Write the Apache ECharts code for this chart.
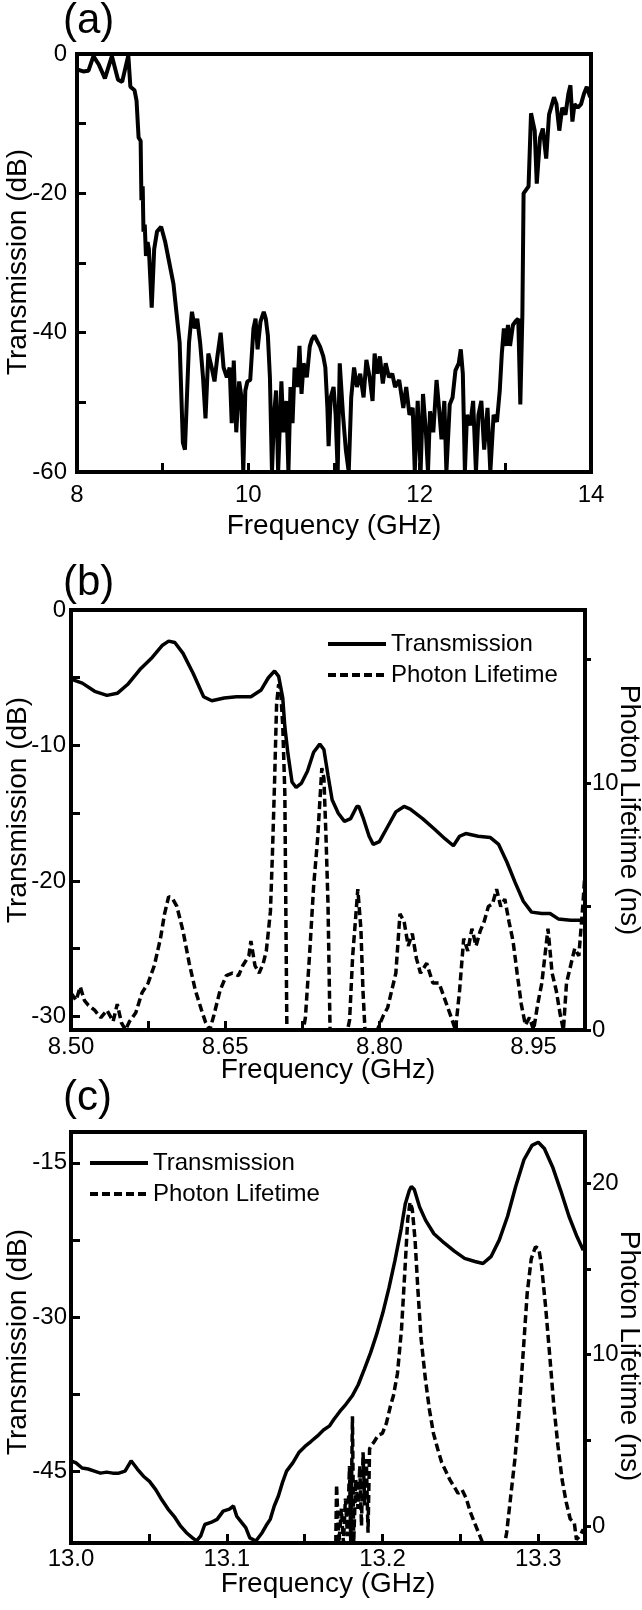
<!DOCTYPE html>
<html><head><meta charset="utf-8">
<script src="https://cdn.jsdelivr.net/npm/echarts@6/dist/echarts.min.js"></script>
<style>html,body{margin:0;padding:0;background:#fff}#c{width:642px;height:1610px}</style>
</head><body><div id="c"></div>
<script>
// ---------- Panel (a) ----------
const aFreq = [8.000,8.072,8.134,8.192,8.254,8.326,8.407,8.479,8.527,8.599,8.623,8.671,8.695,8.719,8.743,8.752,8.767,8.776,8.791,8.805,8.824,8.839,8.872,8.901,8.934,8.982,9.030,9.078,9.126,9.160,9.198,9.236,9.260,9.284,9.308,9.342,9.375,9.404,9.437,9.471,9.500,9.533,9.572,9.605,9.639,9.677,9.711,9.749,9.782,9.806,9.830,9.859,9.893,9.917,9.941,9.965,9.989,10.022,10.060,10.084,10.108,10.142,10.180,10.204,10.228,10.252,10.276,10.300,10.324,10.348,10.386,10.410,10.444,10.468,10.492,10.516,10.540,10.573,10.597,10.621,10.645,10.683,10.717,10.741,10.770,10.803,10.837,10.875,10.899,10.923,10.937,10.961,10.995,11.019,11.043,11.067,11.105,11.138,11.172,11.201,11.234,11.268,11.306,11.345,11.378,11.416,11.450,11.474,11.507,11.536,11.570,11.603,11.642,11.680,11.713,11.761,11.809,11.843,11.881,11.919,11.943,11.977,12.011,12.039,12.073,12.097,12.121,12.159,12.197,12.226,12.255,12.288,12.312,12.351,12.384,12.418,12.456,12.480,12.504,12.528,12.552,12.590,12.624,12.657,12.686,12.720,12.753,12.792,12.825,12.863,12.902,12.935,12.959,12.983,13.007,13.031,13.055,13.089,13.117,13.151,13.175,13.199,13.213,13.232,13.271,13.300,13.343,13.367,13.405,13.438,13.477,13.510,13.534,13.568,13.597,13.630,13.664,13.702,13.736,13.760,13.783,13.807,13.846,13.884,13.918,13.951,13.990,14.000];
const aTrans = [-2.2,-2.5,-2.4,-0.3,-1.5,-3.5,-0.3,-3.7,-4.0,-0.2,-4.7,-5.2,-6.7,-12,-12.5,-21,-19,-25.5,-24.5,-29,-27,-28,-36.4,-28,-25.5,-24.8,-27,-30,-33,-37,-41.4,-55.8,-56.8,-49,-41.4,-37,-39.4,-38,-41.4,-46.4,-52.3,-43,-45,-47,-43.4,-40,-45,-46.4,-45,-53,-44,-54.3,-47,-49,-60,-48.3,-47,-46.8,-39.4,-38,-42.4,-38.4,-37,-38,-40.4,-46.4,-60,-51.8,-48.3,-60,-47,-54.3,-49.8,-60,-47.8,-53,-45,-47.8,-41.9,-48.8,-44.4,-46.4,-42,-41,-40.4,-41.2,-42,-43.4,-45,-50.8,-56.3,-49.3,-47.8,-51.8,-60,-44.4,-51.8,-56.8,-60,-49.3,-45,-47.8,-45.9,-49.3,-43.9,-46.4,-49.8,-43,-45.9,-43.4,-47.3,-44.4,-46.4,-45.9,-47.8,-46.8,-50.8,-47.8,-51.8,-50.8,-60,-49.8,-60,-48.8,-54.3,-60,-51.3,-54.3,-46.8,-50.8,-55.3,-49.8,-60,-50.3,-49.3,-45.4,-44.4,-42.4,-45.9,-60,-51.8,-53.3,-49.8,-60,-51.8,-49.8,-56.8,-50.8,-60,-51.8,-52.8,-48.3,-43,-39.4,-41.9,-38.9,-41.9,-38.9,-38.4,-38,-50.3,-37.4,-20,-20,-19,-8.5,-11,-18.6,-12,-10.7,-15,-8.7,-7.7,-6.2,-7.2,-11,-7.7,-8.7,-5.7,-4.5,-9.7,-7.2,-7.7,-7.2,-5.7,-4.7,-6.2,-5.5];
const aXLabels = [8,10,12,14];
const aXTicks = [8,9,10,11,12,13,14];
const aYLabels = [-60,-40,-20,0];
const aYTicks = [-60,-50,-40,-30,-20,-10,0];

// ---------- Panel (b) ----------
const bFreqT = [8.500,8.511,8.523,8.535,8.545,8.555,8.567,8.579,8.589,8.595,8.601,8.609,8.619,8.629,8.637,8.649,8.661,8.675,8.685,8.692,8.698,8.702,8.706,8.708,8.711,8.715,8.719,8.724,8.730,8.736,8.742,8.746,8.750,8.754,8.760,8.766,8.772,8.778,8.780,8.784,8.790,8.794,8.800,8.808,8.816,8.824,8.830,8.842,8.854,8.864,8.872,8.878,8.884,8.896,8.908,8.916,8.924,8.932,8.940,8.948,8.958,8.966,8.974,8.986,9.000];
const bTrans = [-5.1,-5.4,-6.0,-6.3,-6.15,-5.5,-4.4,-3.5,-2.6,-2.3,-2.4,-3.2,-4.7,-6.4,-6.7,-6.5,-6.4,-6.4,-5.9,-5.0,-4.5,-4.9,-6.5,-8.6,-10.6,-12.7,-13.1,-12.8,-11.9,-10.5,-9.9,-10.3,-12.2,-14.0,-15.0,-15.6,-15.4,-14.5,-14.5,-15.3,-16.7,-17.3,-17.1,-16.0,-14.9,-14.5,-14.7,-15.4,-16.2,-16.9,-17.4,-16.7,-16.5,-16.7,-16.8,-17.3,-18.6,-20.1,-21.5,-22.3,-22.4,-22.4,-22.8,-22.9,-22.9];
const bFreqL = [8.500,8.505,8.509,8.513,8.517,8.523,8.529,8.535,8.541,8.545,8.549,8.553,8.557,8.563,8.569,8.575,8.581,8.587,8.591,8.595,8.599,8.603,8.609,8.615,8.621,8.627,8.631,8.635,8.639,8.645,8.651,8.657,8.663,8.667,8.673,8.675,8.679,8.683,8.687,8.690,8.694,8.696,8.698,8.700,8.702,8.704,8.706,8.708,8.710,8.726,8.728,8.732,8.736,8.740,8.744,8.746,8.748,8.750,8.752,8.769,8.771,8.774,8.777,8.779,8.782,8.784,8.786,8.798,8.804,8.808,8.812,8.816,8.820,8.824,8.828,8.832,8.836,8.840,8.846,8.852,8.858,8.864,8.870,8.874,8.878,8.882,8.886,8.890,8.894,8.898,8.902,8.906,8.910,8.914,8.918,8.922,8.926,8.930,8.934,8.938,8.942,8.946,8.950,8.954,8.958,8.964,8.968,8.972,8.976,8.979,8.982,8.986,8.990,8.994,8.998,9.000];
const bLife = [1.5,1.2,1.75,1.2,1.0,0.8,0.5,0.8,0.35,1.05,0.3,0,0.35,0.7,1.5,1.9,2.6,3.7,4.7,5.4,5.3,5.0,4.0,2.7,1.6,0.8,0.3,0,0.6,1.6,2.2,2.3,2.2,2.6,3.0,3.6,2.6,2.3,2.7,3.2,4.8,7.2,10.0,13.2,14.0,13.7,12.3,9.6,0,0,0.5,3.0,5.8,7.8,10.6,10.2,7.9,5.1,0,0,0.4,3.0,4.6,5.7,4.1,1.6,0,0,0.6,0.9,1.6,2.3,4.7,4.4,3.4,3.9,2.9,2.3,2.7,1.9,1.9,1.2,0.5,0,1.6,3.7,3.2,4.1,3.4,4.0,4.4,5.0,5.1,5.7,5.0,5.3,4.4,3.6,2.3,1.05,0.2,0.5,0,1.05,1.9,4.1,2.3,1.6,0.6,0,1.9,2.6,3.3,3.0,5.1,6.4];
const bXLabels = [8.50,8.65,8.80,8.95];
const bXTicks = [8.50,8.575,8.65,8.725,8.80,8.875,8.95];
const bYLabels = [-30,-20,-10,0];
const bYTicks = [-30,-25,-20,-15,-10,-5,0];
const bRLabels = [0,10];
const bRTicks = [0,5,10,15];

// ---------- Panel (c) ----------
const cFreqT = [13.0000,13.0032,13.0071,13.0110,13.0150,13.0189,13.0229,13.0268,13.0307,13.0347,13.0386,13.0426,13.0465,13.0504,13.0544,13.0583,13.0623,13.0662,13.0701,13.0741,13.0780,13.0806,13.0833,13.0859,13.0898,13.0938,13.0977,13.1017,13.1043,13.1064,13.1095,13.1122,13.1148,13.1187,13.1227,13.1253,13.1279,13.1305,13.1332,13.1358,13.1384,13.1424,13.1463,13.1502,13.1542,13.1581,13.1621,13.1660,13.1686,13.1726,13.1765,13.1805,13.1844,13.1883,13.1923,13.1962,13.2002,13.2041,13.2080,13.2120,13.2146,13.2172,13.2185,13.2204,13.2238,13.2277,13.2330,13.2396,13.2461,13.2527,13.2593,13.2645,13.2698,13.2750,13.2803,13.2855,13.2908,13.2960,13.3000,13.3039,13.3092,13.3144,13.3197,13.3249,13.3289];
const cTrans = [-44.0,-44.2,-44.7,-44.8,-45.0,-45.2,-45.1,-45.2,-45.2,-45.0,-44.0,-44.8,-45.5,-46.0,-46.8,-47.8,-48.7,-49.4,-50.3,-51.0,-51.5,-51.8,-51.3,-50.2,-50.0,-49.7,-48.9,-48.7,-48.4,-49.4,-50.0,-50.5,-51.5,-51.8,-51.0,-50.3,-49.7,-48.4,-47.4,-46.1,-45.0,-44.2,-43.2,-42.6,-42.1,-41.6,-41.0,-40.6,-40.0,-39.2,-38.5,-37.7,-36.6,-35.1,-33.5,-31.7,-29.6,-27.2,-24.5,-21.4,-19.0,-17.7,-17.3,-17.6,-19.3,-20.6,-21.9,-22.8,-23.6,-24.3,-24.6,-24.8,-24.1,-22.5,-20.2,-17.3,-14.7,-13.3,-13.0,-13.6,-15.4,-17.7,-20.2,-22.2,-23.5];
const cFreqL = [13.1700,13.1705,13.1720,13.1736,13.1749,13.1762,13.1775,13.1788,13.1796,13.1807,13.1815,13.1828,13.1843,13.1854,13.1865,13.1875,13.1886,13.1896,13.1907,13.1917,13.1928,13.1946,13.1972,13.1999,13.2025,13.2051,13.2070,13.2096,13.2122,13.2143,13.2162,13.2177,13.2191,13.2209,13.2227,13.2248,13.2275,13.2301,13.2327,13.2354,13.2380,13.2406,13.2432,13.2459,13.2485,13.2511,13.2538,13.2564,13.2590,13.2617,13.2643,13.2785,13.2797,13.2824,13.2850,13.2876,13.2903,13.2929,13.2955,13.2982,13.3003,13.3021,13.3047,13.3074,13.3100,13.3126,13.3153,13.3179,13.3205,13.3231,13.3245,13.3266,13.3289];
const cLife = [-1,2.4,-1,1.0,-1,1.6,-0.6,3.5,-1,6.4,-1,2.7,1.0,3.5,0,4.3,1.2,3.9,-0.4,4.5,4.7,4.9,5.3,5.4,6.0,7.0,7.6,8.9,11.5,14.8,17.9,18.9,18.5,16.7,13.8,10.9,8.6,6.8,5.4,4.5,3.7,3.2,2.7,2.3,1.9,2.1,1.6,0.8,0.2,-0.4,-1,-1,-0.4,1.8,3.9,6.6,10.1,13.6,15.6,16.3,16.2,15.2,12.8,9.9,7.0,4.7,2.7,1.4,0.4,0.2,-0.8,-0.6,-0.2];
const cXLabels = [13.0,13.1,13.2,13.3];
const cXTicks = [13.0,13.05,13.1,13.15,13.2,13.25,13.3];
const cYLabels = [-45,-30,-15];
const cYTicks = [-45,-37.5,-30,-22.5,-15];
const cRLabels = [0,10,20];
const cRTicks = [0,5,10,15,20];

const FONT = '"Liberation Sans", Arial, sans-serif';
const zip = (xs, ys) => xs.map((x, i) => [x, ys[i]]);

function xAx(grid, min, max, labels, ticks, dec, margin) {
  return {
    type: 'value', gridIndex: grid, min, max, position: 'bottom',
    axisLine: {show: false, onZero: false}, splitLine: {show: false},
    axisTick: {show: true, inside: true, length: 9, lineStyle: {width: 3, color: '#000'}, customValues: ticks},
    axisLabel: {customValues: labels, formatter: v => Number(v).toFixed(dec), fontSize: 24, color: '#000', fontFamily: FONT, margin}
  };
}
function yAx(grid, min, max, labels, ticks, margin, right) {
  return {
    type: 'value', gridIndex: grid, min, max, position: right ? 'right' : 'left',
    axisLine: {show: false, onZero: false}, splitLine: {show: false},
    axisTick: {show: true, inside: !right, length: right ? 6 : 9, lineStyle: {width: 3, color: '#000'}, customValues: ticks},
    axisLabel: {customValues: labels, fontSize: 24, color: '#000', fontFamily: FONT, margin}
  };
}
function vTitle(text, x, y, right) {
  return {type: 'text', x, y, rotation: right ? -Math.PI / 2 : Math.PI / 2, silent: true,
    style: {text, fill: '#000', font: '28px ' + FONT, align: 'center', verticalAlign: 'middle',
            textAlign: 'center', textVerticalAlign: 'middle'}};
}
function hTitle(text, x, y) {
  return {type: 'text', x, y, silent: true,
    style: {text, fill: '#000', font: '28px ' + FONT, align: 'center', verticalAlign: 'middle',
            textAlign: 'center', textVerticalAlign: 'middle'}};
}
const gridStyle = {show: true, borderColor: '#000', borderWidth: 4, backgroundColor: 'transparent', containLabel: false};
const solidA = {color: '#000', width: 4, type: 'solid'};
const solid = {color: '#000', width: 3.5, type: 'solid'};
const dashed = {color: '#000', width: 3.5, type: [8, 4]};
function ser(name, xi, yi, data, ls) {
  return {name, type: 'line', xAxisIndex: xi, yAxisIndex: yi, data, showSymbol: false, symbol: 'none',
    lineStyle: ls, itemStyle: {color: '#000'}, animation: false, silent: true};
}
const legendBase = {
  data: ['Transmission', 'Photon Lifetime'], orient: 'vertical', itemWidth: 58, itemHeight: 14, itemGap: 7,
  padding: 0, selectedMode: false, itemStyle: {opacity: 0, borderWidth: 0},
  lineStyle: {width: 4, color: '#000'},
  textStyle: {fontSize: 24, color: '#000', fontFamily: FONT, lineHeight: 24}
};
const titleStyle = {fontSize: 42, fontWeight: 'normal', color: '#000', fontFamily: FONT};

const chart = echarts.init(document.getElementById('c'), null, {renderer: 'canvas'});
chart.setOption({
  animation: false,
  backgroundColor: '#fff',
  title: [
    {text: '(a)', left: 63, top: 0, padding: 0, textStyle: titleStyle},
    {text: '(b)', left: 63, top: 562, padding: 0, textStyle: titleStyle},
    {text: '(c)', left: 63, top: 1077, padding: 0, textStyle: titleStyle}
  ],
  graphic: [
    vTitle('Transmission (dB)', 18, 262, false),
    vTitle('Transmission (dB)', 18, 810, false),
    vTitle('Photon Lifetime (ns)', 629, 810, true),
    vTitle('Transmission (dB)', 18, 1342, false),
    vTitle('Photon Lifetime (ns)', 629, 1356, true),
    hTitle('Frequency (GHz)', 334, 526),
    hTitle('Frequency (GHz)', 328, 1070),
    hTitle('Frequency (GHz)', 328, 1584)
  ],
  grid: [
    Object.assign({left: 77, top: 54, width: 514, height: 418}, gridStyle),
    Object.assign({left: 71, top: 610, width: 514, height: 420}, gridStyle),
    Object.assign({left: 71, top: 1132, width: 514, height: 411}, gridStyle)
  ],
  xAxis: [
    xAx(0, 8, 14, aXLabels, aXTicks, 0, 11),
    xAx(1, 8.5, 9.0, bXLabels, bXTicks, 2, 5),
    xAx(2, 13.0, 13.33, cXLabels, cXTicks, 1, 4)
  ],
  yAxis: [
    yAx(0, -60, 0, aYLabels, aYTicks, 10, false),
    yAx(1, -31, 0, bYLabels, bYTicks, 5, false),
    yAx(1, 0, 17, bRLabels, bRTicks, 7, true),
    yAx(2, -52, -12, cYLabels, cYTicks, 4, false),
    yAx(2, -1, 23, cRLabels, cRTicks, 7, true)
  ],
  legend: [
    Object.assign({left: 326, top: 632}, legendBase),
    Object.assign({left: 88, top: 1151}, legendBase)
  ],
  series: [
    ser('Transmission', 0, 0, zip(aFreq, aTrans), solidA),
    ser('Transmission', 1, 1, zip(bFreqT, bTrans), solid),
    ser('Photon Lifetime', 1, 2, zip(bFreqL, bLife), dashed),
    ser('Transmission', 2, 3, zip(cFreqT, cTrans), solid),
    ser('Photon Lifetime', 2, 4, zip(cFreqL, cLife), dashed)
  ]
});
</script></body></html>
